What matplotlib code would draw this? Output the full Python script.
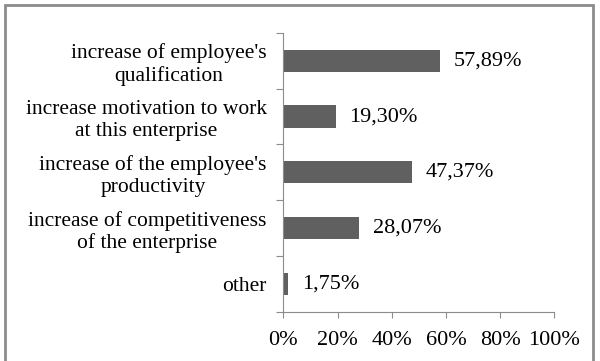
import numpy as np
import matplotlib.pyplot as plt
from matplotlib.patches import Rectangle
from matplotlib.ticker import FuncFormatter

categories = [
    "increase of employee's\nqualification",
    "increase motivation to work\nat this enterprise",
    "increase of the employee's\nproductivity",
    "increase of competitiveness\nof the enterprise",
    "other",
]
values = [57.89, 19.30, 47.37, 28.07, 1.75]
value_labels = ["57,89%", "19,30%", "47,37%", "28,07%", "1,75%"]
x_ticks = [0, 20, 40, 60, 80, 100]

plt.rcParams['font.family'] = ['Liberation Serif', 'DejaVu Serif']

fig = plt.figure(figsize=(6, 3.61), dpi=100)
ax = fig.add_axes([0.4722, 0.1366, 0.4516, 0.772])

# outer frame of the chart area
fig.patches.append(Rectangle((5 / 600, -0.05), 588 / 600, 1 - 5 / 361 + 0.05,
                             transform=fig.transFigure, fill=False,
                             edgecolor='#8c8c8c', linewidth=2))

y = np.arange(len(categories))
ax.barh(y, values, height=0.4, color='#606060')
for yi, v, lab in zip(y, values, value_labels):
    ax.text(v + 5, yi, lab, va='center', ha='left', fontsize=16)

ax.set_ylim(len(categories) - 0.5, -0.5)
ax.set_xlim(0, 100)
ax.set_xticks(x_ticks)
ax.xaxis.set_major_formatter(FuncFormatter(lambda v, p: f"{v:.0f}%"))
ax.set_yticks(np.arange(len(categories) + 1) - 0.5, minor=False)
ax.set_yticklabels([])
ax.set_yticks(y, minor=True)
ax.set_yticklabels(categories, minor=True, fontsize=15.5, linespacing=1.2,
                   multialignment='center')
ax.tick_params(axis='y', which='minor', length=0, pad=12)
ax.tick_params(axis='y', which='major', length=5, color='#8c8c8c')
ax.tick_params(axis='x', length=4, color='#8c8c8c', labelsize=16, pad=10)

for s in ['top', 'right']:
    ax.spines[s].set_visible(False)
for s in ['left', 'bottom']:
    ax.spines[s].set_color('#8c8c8c')

fig.savefig('out.png', dpi=100)
